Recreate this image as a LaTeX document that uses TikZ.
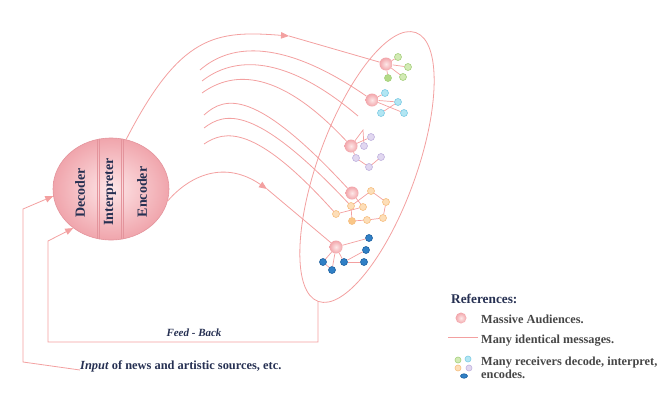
\documentclass[tikz,border=0pt]{standalone}
\usepackage{fontspec}
\setmainfont{Liberation Serif}
\usepackage{xcolor}
\usetikzlibrary{shapes.geometric,arrows.meta,positioning}

\definecolor{msgred}{RGB}{243,160,160}
\definecolor{navy}{RGB}{38,48,82}
\definecolor{leggrey}{RGB}{70,70,70}
\definecolor{ballin}{RGB}{253,232,232}
\definecolor{ballout}{RGB}{242,165,170}
\definecolor{commin}{RGB}{253,230,232}
\definecolor{commout}{RGB}{240,165,172}
\definecolor{commrim}{RGB}{228,148,156}
\definecolor{grfill}{RGB}{210,234,180}
\definecolor{grrim}{RGB}{165,208,125}
\definecolor{grdark}{RGB}{180,218,135}
\definecolor{cyfill}{RGB}{178,230,243}
\definecolor{cyrim}{RGB}{125,203,228}
\definecolor{lvfill}{RGB}{225,215,240}
\definecolor{lvrim}{RGB}{192,178,222}
\definecolor{pcfill}{RGB}{253,222,184}
\definecolor{pcrim}{RGB}{245,190,128}
\definecolor{pcdark}{RGB}{250,198,135}
\definecolor{blfill}{RGB}{48,128,198}
\definecolor{blrim}{RGB}{30,96,160}

\begin{document}
\begin{tikzpicture}[x=1pt,y=-1pt,
    msg/.style={draw=msgred, line width=0.8pt},
    tip/.style={-{Triangle[length=8pt,width=6.5pt]}},
    link/.style={draw=msgred, line width=0.7pt},
    mass/.style={circle, inner sep=0pt, minimum size=13pt, shading=radial, inner color=ballin, outer color=ballout},
    rcv/.style 2 args={circle, inner sep=0pt, minimum size=7pt, fill=#1, draw=#2, line width=0.6pt},
    inlbl/.style={font=\bfseries\fontsize{14}{16}\selectfont, text=navy, rotate=90, inner sep=0pt},
    navytxt/.style={font=\bfseries\fontsize{12.4}{13}\selectfont, text=navy, inner sep=0pt},
    legtxt/.style={font=\bfseries\fontsize{12.3}{12.6}\selectfont, text=leggrey, inner sep=0pt, anchor=west, align=left}
]
    \useasboundingbox (0,0) rectangle (666,394);

    % communicator
    \node[ellipse, minimum width=116pt, minimum height=102pt, inner sep=0pt,
          shading=radial, inner color=commin, outer color=commout,
          draw=commrim, line width=0.6pt] (comm) at (111,189) {};
    \begin{scope}
        \clip (111,189) ellipse [x radius=58pt, y radius=51pt];
        \foreach \xx in {97,99.5,121,123.5}
            \draw[commrim, line width=0.6pt] (\xx,130) -- (\xx,250);
    \end{scope}
    \node[inlbl] (dec) at (80,193) {Decoder};
    \node[inlbl] (intp) at (110,192) {Interpreter};
    \node[inlbl] (enc) at (142,192) {Encoder};

    % audience ring
    \node[ellipse, draw=msgred, line width=0.8pt, minimum width=98pt, minimum height=286pt,
          inner sep=0pt, rotate=-20] (aud) at (367,167) {};

    % massive audiences
    \node[mass] (m1) at (386,64) {};
    \node[mass] (m2) at (372,100) {};
    \node[mass] (m3) at (351,146) {};
    \node[mass] (m4) at (352,193) {};
    \node[mass] (m5) at (336,247) {};

    % receivers
    \node[rcv={grfill}{grrim}] (g1) at (398,57) {};
    \node[rcv={grfill}{grrim}] (g2) at (408,67) {};
    \node[rcv={grfill}{grrim}] (g3) at (403,77) {};
    \node[rcv={grdark}{grrim}] (g4) at (388,78) {};

    \node[rcv={cyfill}{cyrim}] (c1) at (385,93) {};
    \node[rcv={cyfill}{cyrim}] (c2) at (398,102) {};
    \node[rcv={cyfill}{cyrim}] (c3) at (404,113) {};
    \node[rcv={cyfill}{cyrim}] (c4) at (381,113) {};

    \node[rcv={lvfill}{lvrim}] (v1) at (371,137) {};
    \node[rcv={lvfill}{lvrim}] (v2) at (364,146) {};
    \node[rcv={lvfill}{lvrim}] (v3) at (356,158) {};
    \node[rcv={lvfill}{lvrim}] (v4) at (369,167) {};
    \node[rcv={lvfill}{lvrim}] (v5) at (381,157) {};
    \coordinate (vtop) at (363,130);

    \node[rcv={pcfill}{pcrim}] (p1) at (371,191) {};
    \node[rcv={pcfill}{pcrim}] (p2) at (386,202) {};
    \node[rcv={pcfill}{pcrim}] (p3) at (383,218) {};
    \node[rcv={pcfill}{pcrim}] (p4) at (367,220) {};
    \node[rcv={pcdark}{pcrim}] (p5) at (352,221) {};
    \node[rcv={pcfill}{pcrim}] (p6) at (351,206) {};
    \node[rcv={pcfill}{pcrim}] (p7) at (363,207) {};
    \node[rcv={pcfill}{pcrim}] (p8) at (336,214) {};

    \node[rcv={blfill}{blrim}] (b1) at (369,238) {};
    \node[rcv={blfill}{blrim}] (b2) at (366,250) {};
    \node[rcv={blfill}{blrim}] (b3) at (364,262) {};
    \node[rcv={blfill}{blrim}] (b4) at (344,262) {};
    \node[rcv={blfill}{blrim}] (b5) at (332,270) {};
    \node[rcv={blfill}{blrim}] (b6) at (323,262) {};

    \foreach \a/\b in {m1/g1,m1/g2,m1/g3,m1/g4,m2/c1,m2/c2,m2/c3,c4/c2,
                       m3/v1,m3/v3,v3/v4,v4/v5,m4/p7,p1/p6,p1/p2,p2/p3,p3/p4,p4/p5,p5/p6,p8/p7,
                       m5/b1,m5/b6,m5/b5,m5/b4,b4/b3,b4/b2,b6/b5}
        \draw[link] (\a) -- (\b);
    \draw[link] (m3) -- (vtop) -- (v2);

    % messages
    \coordinate (t1) at (289,36);
    \coordinate (t2) at (267,189);
    \draw[msg,tip] (comm.73) .. controls (180,35) and (215,30) .. (t1);
    \draw[msg] (t1) -- (m1);
    \draw[msg,tip] (comm.-12) .. controls (190,175) and (225,160) .. (t2);
    \draw[msg] (t2) -- (m5);

    \coordinate (s1) at (200,70);
    \coordinate (s2) at (202,81);
    \coordinate (s3) at (202,93);
    \coordinate (s4) at (204,115);
    \coordinate (s5) at (204,128);
    \coordinate (s6) at (204,144);
    \coordinate (free) at (358,116);
    \draw[msg] (s1) .. controls (232,42) and (285,40) .. (m2);
    \draw[msg] (s2) .. controls (234,56) and (285,54) .. (free);
    \draw[msg] (s3) .. controls (234,70) and (280,70) .. (m3);
    \draw[msg] (s4) .. controls (225,96) and (255,88) .. (m4);
    \draw[msg] (s5) .. controls (225,112) and (255,104) .. (p6);
    \draw[msg] (s6) .. controls (225,130) and (255,124) .. (p8);

    % feed-back and input
    \coordinate (fbl) at (48,342);
    \coordinate (fbt) at (48,241);
    \draw[msg,tip] (aud.south) |- (fbl) -- (fbt) -- (comm.226);
    \node[navytxt, font=\bfseries\fontsize{11}{12}\selectfont] (fb) at (194,333) {\itshape Feed - Back};

    \node[navytxt, anchor=west] (input) at (80,366) {\textit{Input} of news and artistic sources, etc.};
    \coordinate (inl) at (23,362);
    \coordinate (int) at (23,209);
    \draw[msg,tip] ([yshift=-4pt]input.west) -- (inl) -- (int) -- (comm.187);

    % legend
    \node[navytxt, anchor=west, font=\bfseries\fontsize{13.3}{14}\selectfont] (refs) at (451,299) {References:};
    \node[mass, minimum size=11pt] (lgball) at (461,318) {};
    \node[legtxt] (lgmass) at (481,319) {Massive Audiences.};
    \coordinate (lgl) at (448,337);
    \coordinate (lgr) at (478,337);
    \draw[msg] (lgl) -- (lgr);
    \node[legtxt] (lgmsg) at (481,341) {Many identical messages.};
    \node[rcv={grfill}{grrim}, minimum size=6pt] (lg1) at (458,360) {};
    \node[rcv={cyfill}{cyrim}, minimum size=6pt] (lg2) at (468,359) {};
    \node[rcv={pcfill}{pcrim}, minimum size=6pt] (lg3) at (458,368) {};
    \node[rcv={lvfill}{lvrim}, minimum size=6pt] (lg4) at (469,368) {};
    \node[rcv={blfill}{blrim}, ellipse, minimum width=7pt, minimum height=4.5pt] (lg5) at (464,376) {};
    \node[legtxt, anchor=north west] (lgrcv) at (481,357) {Many receivers decode, interpret,\\encodes.};
\end{tikzpicture}
\end{document}
